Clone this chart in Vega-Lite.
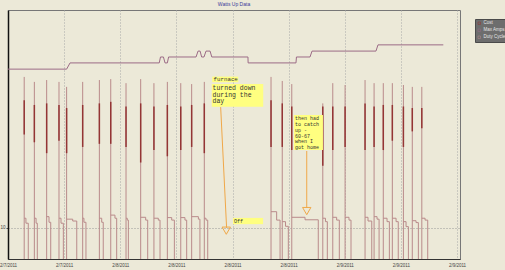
{
  "$schema": "https://vega.github.io/schema/vega-lite/v6.json",
  "width": 452,
  "height": 249,
  "autosize": {"type": "none"},
  "padding": {"left": 8, "top": 10, "right": 45, "bottom": 11},
  "background": "#ece9d8",
  "title": {"text": "Watts Up Data", "fontSize": 5, "font": "Liberation Sans", "color": "#3a3a9a", "fontWeight": "normal", "offset": 3, "anchor": "middle"},
  "config": {
    "view": {"fill": "#ece9d8", "stroke": "#777", "strokeWidth": 1},
    "text": {"font": "Liberation Mono", "color": "#333", "align": "left"},
    "axisX": {
      "grid": true, "gridDash": [1, 2], "gridColor": "#a8a8a8",
      "tickSize": 0, "labelPadding": 3, "labelFontSize": 4.5, "labelFont": "Liberation Sans",
      "labelColor": "#444", "domainColor": "#333", "labelFlush": false, "labelOverlap": false
    },
    "axisY": {
      "grid": true, "gridDash": [1, 2], "gridColor": "#999",
      "domainColor": "#111", "domainWidth": 1.5, "tickSize": 2, "tickColor": "#555",
      "labelFontSize": 4.5, "labelFont": "Liberation Sans", "labelColor": "#444", "labelPadding": 1
    }
  },
  "datasets": {
    "amps": [
      {"t": "2011-02-07T12:00", "v": 61.0},
      {"t": "2011-02-07T18:16", "v": 61.0},
      {"t": "2011-02-07T18:38", "v": 63.0},
      {"t": "2011-02-08T04:10", "v": 63.0},
      {"t": "2011-02-08T04:18", "v": 64.9},
      {"t": "2011-02-08T04:37", "v": 64.9},
      {"t": "2011-02-08T04:47", "v": 63.0},
      {"t": "2011-02-08T05:02", "v": 63.0},
      {"t": "2011-02-08T05:10", "v": 64.9},
      {"t": "2011-02-08T08:06", "v": 64.9},
      {"t": "2011-02-08T08:19", "v": 66.8},
      {"t": "2011-02-08T08:32", "v": 66.8},
      {"t": "2011-02-08T08:42", "v": 64.9},
      {"t": "2011-02-08T08:57", "v": 64.9},
      {"t": "2011-02-08T09:10", "v": 66.8},
      {"t": "2011-02-08T09:36", "v": 66.8},
      {"t": "2011-02-08T09:47", "v": 64.9},
      {"t": "2011-02-08T13:39", "v": 64.9},
      {"t": "2011-02-08T13:40", "v": 63.0},
      {"t": "2011-02-08T18:47", "v": 63.0},
      {"t": "2011-02-08T18:50", "v": 64.9},
      {"t": "2011-02-08T20:17", "v": 64.9},
      {"t": "2011-02-08T20:30", "v": 66.8},
      {"t": "2011-02-09T03:20", "v": 66.8},
      {"t": "2011-02-09T03:33", "v": 68.8},
      {"t": "2011-02-09T10:32", "v": 68.8}
    ],
    "spikes": [
      {"t": "2011-02-07T13:44", "tm": "2011-02-07T13:55", "te": "2011-02-07T14:10", "peak": 58.5, "p1": 13.1, "p2": 11.5, "dhi": 51, "dlo": 40},
      {"t": "2011-02-07T14:49", "tm": "2011-02-07T15:00", "te": "2011-02-07T15:08", "peak": 56.9, "p1": 13.1, "p2": 11.5, "dhi": 49.5, "dlo": 37.5},
      {"t": "2011-02-07T16:08", "tm": "2011-02-07T16:23", "te": "2011-02-07T16:34", "peak": 57.5, "p1": 13.6, "p2": 11.8, "dhi": 50, "dlo": 34},
      {"t": "2011-02-07T17:27", "tm": "2011-02-07T17:40", "te": "2011-02-07T17:55", "peak": 56.9, "p1": 13.1, "p2": 11.5, "dhi": 49.5, "dlo": 38},
      {"t": "2011-02-07T18:16", "tm": "2011-02-07T18:55", "te": "2011-02-07T19:21", "peak": 55.3, "p1": 12.8, "p2": 12.2, "dhi": 48.5, "dlo": 34},
      {"t": "2011-02-07T19:59", "tm": "2011-02-07T20:07", "te": "2011-02-07T20:20", "peak": 56.9, "p1": 13.1, "p2": 11.8, "dhi": 49.5, "dlo": 36},
      {"t": "2011-02-07T21:46", "tm": "2011-02-07T22:01", "te": "2011-02-07T22:11", "peak": 57.5, "p1": 13.1, "p2": 11.8, "dhi": 50, "dlo": 37},
      {"t": "2011-02-07T22:59", "tm": "2011-02-07T23:26", "te": "2011-02-07T23:37", "peak": 57.8, "p1": 14.1, "p2": 13.1, "dhi": 50.5, "dlo": 37},
      {"t": "2011-02-08T00:37", "tm": "2011-02-08T00:45", "te": "2011-02-08T00:52", "peak": 56.5, "p1": 13.1, "p2": 12.5, "dhi": 49, "dlo": 36},
      {"t": "2011-02-08T02:11", "tm": "2011-02-08T02:43", "te": "2011-02-08T02:56", "peak": 57.8, "p1": 13.4, "p2": 12.5, "dhi": 50, "dlo": 31},
      {"t": "2011-02-08T03:36", "tm": "2011-02-08T04:04", "te": "2011-02-08T04:15", "peak": 56.5, "p1": 13.1, "p2": 12.5, "dhi": 49, "dlo": 35},
      {"t": "2011-02-08T05:02", "tm": "2011-02-08T05:30", "te": "2011-02-08T05:47", "peak": 56.9, "p1": 13.3, "p2": 12.5, "dhi": 49.5, "dlo": 33},
      {"t": "2011-02-08T06:28", "tm": "2011-02-08T06:55", "te": "2011-02-08T07:06", "peak": 56.5, "p1": 13.3, "p2": 12.5, "dhi": 49, "dlo": 35},
      {"t": "2011-02-08T07:38", "tm": "2011-02-08T08:21", "te": "2011-02-08T08:31", "peak": 56.2, "p1": 13.6, "p2": 12.8, "dhi": 49.5, "dlo": 36},
      {"t": "2011-02-08T08:59", "tm": "2011-02-08T09:10", "te": "2011-02-08T09:21", "peak": 56.9, "p1": 13.1, "p2": 12.5, "dhi": 50, "dlo": 34},
      {"t": "2011-02-08T16:07", "tm": "2011-02-08T16:43", "te": "2011-02-08T17:05", "peak": 58.5, "p1": 15.2, "p2": 12.5, "dhi": 51, "dlo": 36},
      {"t": "2011-02-08T17:19", "tm": "2011-02-08T17:40", "te": "2011-02-08T17:58", "peak": 57.2, "p1": 12.0, "p2": 10.5, "dhi": 50, "dlo": 36},
      {"t": "2011-02-08T18:20", "tm": "2011-02-08T19:45", "te": "2011-02-08T21:10", "peak": 56.2, "p1": 13.4, "p2": 12.6, "dhi": 49, "dlo": 35},
      {"t": "2011-02-08T21:39", "tm": "2011-02-08T21:56", "te": "2011-02-08T22:08", "peak": 50, "p1": 13.1, "p2": 12.0, "dhi": 49, "dlo": 30},
      {"t": "2011-02-08T22:43", "tm": "2011-02-08T23:08", "te": "2011-02-08T23:25", "peak": 56.5, "p1": 13.4, "p2": 12.5, "dhi": 49, "dlo": 35},
      {"t": "2011-02-09T00:02", "tm": "2011-02-09T00:27", "te": "2011-02-09T00:40", "peak": 55.9, "p1": 13.4, "p2": 12.5, "dhi": 49, "dlo": 36},
      {"t": "2011-02-09T02:10", "tm": "2011-02-09T02:29", "te": "2011-02-09T02:53", "peak": 57.5, "p1": 13.4, "p2": 12.2, "dhi": 50, "dlo": 35},
      {"t": "2011-02-09T03:08", "tm": "2011-02-09T03:27", "te": "2011-02-09T03:40", "peak": 56.5, "p1": 13.6, "p2": 12.8, "dhi": 49, "dlo": 36},
      {"t": "2011-02-09T04:07", "tm": "2011-02-09T04:31", "te": "2011-02-09T04:46", "peak": 56.5, "p1": 13.1, "p2": 12.0, "dhi": 49.5, "dlo": 35},
      {"t": "2011-02-09T05:05", "tm": "2011-02-09T05:29", "te": "2011-02-09T05:43", "peak": 56.5, "p1": 13.1, "p2": 12.0, "dhi": 49.5, "dlo": 38},
      {"t": "2011-02-09T06:16", "tm": "2011-02-09T06:33", "te": "2011-02-09T06:48", "peak": 55.9, "p1": 12.0, "p2": 10.4, "dhi": 49, "dlo": 36},
      {"t": "2011-02-09T07:13", "tm": "2011-02-09T07:37", "te": "2011-02-09T07:52", "peak": 55.3, "p1": 12.3, "p2": 11.7, "dhi": 48.5, "dlo": 41},
      {"t": "2011-02-09T08:14", "tm": "2011-02-09T08:35", "te": "2011-02-09T08:52", "peak": 55.3, "p1": 13.1, "p2": 12.5, "dhi": 48.5, "dlo": 42}
    ],
    "boxes": [
      {"t1": "2011-02-08T09:50", "t2": "2011-02-08T12:37", "v1": 56.8, "v2": 58.6},
      {"t1": "2011-02-08T09:47", "t2": "2011-02-08T15:17", "v1": 48.9, "v2": 56.2},
      {"t1": "2011-02-08T18:34", "t2": "2011-02-08T21:40", "v1": 35.0, "v2": 46.3},
      {"t1": "2011-02-08T12:03", "t2": "2011-02-08T15:16", "v1": 11.2, "v2": 13.2}
    ],
    "arrows": [
      {"t1": "2011-02-08T10:44", "t2": "2011-02-08T11:22", "v1": 48.8, "v2": 10.0},
      {"t1": "2011-02-08T19:56", "t2": "2011-02-08T19:56", "v1": 34.7, "v2": 16.4}
    ],
    "heads": [
      {"t": "2011-02-08T11:20", "v": 9.1},
      {"t": "2011-02-08T19:56", "v": 15.4}
    ]
  },
  "layer": [
    {
      "data": {"name": "amps"},
      "mark": {"type": "line", "strokeWidth": 1},
      "encoding": {
        "x": {
          "field": "t", "type": "temporal", "title": null,
          "scale": {"domain": [{"year": 2011, "month": 2, "date": 7, "hours": 12}, {"year": 2011, "month": 2, "date": 9, "hours": 12, "minutes": 19}], "nice": false},
          "axis": {
            "values": [
              {"year": 2011, "month": 2, "date": 7, "hours": 12},
              {"year": 2011, "month": 2, "date": 7, "hours": 18},
              {"year": 2011, "month": 2, "date": 8, "hours": 0},
              {"year": 2011, "month": 2, "date": 8, "hours": 6},
              {"year": 2011, "month": 2, "date": 8, "hours": 12},
              {"year": 2011, "month": 2, "date": 8, "hours": 18},
              {"year": 2011, "month": 2, "date": 9, "hours": 0},
              {"year": 2011, "month": 2, "date": 9, "hours": 6},
              {"year": 2011, "month": 2, "date": 9, "hours": 12}
            ],
            "format": "%-m/%-d/%Y"
          }
        },
        "y": {
          "field": "v", "type": "quantitative", "title": null,
          "scale": {"domain": [0, 80], "nice": false, "zero": false},
          "axis": {"values": [10]}
        },
        "color": {
          "datum": "Max Amps",
          "scale": {"domain": ["Cost", "Max Amps", "Duty Cycle"], "range": ["#943535", "#9c6b86", "#b98a8a"]},
          "legend": {"orient": "none", "legendX": 467, "legendY": 9, "title": null, "fillColor": "#6d6d6d", "strokeColor": "#4a4a4a", "padding": 2, "labelFontSize": 4.5, "labelFont": "Liberation Sans", "labelColor": "#e6e6e6", "symbolSize": 6, "symbolType": "square", "rowPadding": 1, "labelOffset": 2, "symbolStrokeWidth": 0.5}
        }
      }
    },
    {
      "data": {"name": "spikes"},
      "mark": {"type": "rule", "strokeWidth": 1},
      "encoding": {
        "x": {"field": "t", "type": "temporal", "title": null},
        "y": {"field": "peak", "type": "quantitative", "title": null},
        "y2": {"datum": 0},
        "color": {"datum": "Duty Cycle"}
      }
    },
    {
      "data": {"name": "spikes"},
      "mark": {"type": "rule", "strokeWidth": 1, "color": "#b98a8a"},
      "encoding": {
        "x": {"field": "t", "type": "temporal", "title": null},
        "x2": {"field": "tm"},
        "y": {"field": "p1", "type": "quantitative", "title": null}
      }
    },
    {
      "data": {"name": "spikes"},
      "mark": {"type": "rule", "strokeWidth": 1, "color": "#b98a8a"},
      "encoding": {
        "x": {"field": "tm", "type": "temporal", "title": null},
        "y": {"field": "p1", "type": "quantitative", "title": null},
        "y2": {"field": "p2"}
      }
    },
    {
      "data": {"name": "spikes"},
      "mark": {"type": "rule", "strokeWidth": 1, "color": "#b98a8a"},
      "encoding": {
        "x": {"field": "tm", "type": "temporal", "title": null},
        "x2": {"field": "te"},
        "y": {"field": "p2", "type": "quantitative", "title": null}
      }
    },
    {
      "data": {"name": "spikes"},
      "mark": {"type": "rule", "strokeWidth": 1, "color": "#b98a8a"},
      "encoding": {
        "x": {"field": "te", "type": "temporal", "title": null},
        "y": {"field": "p2", "type": "quantitative", "title": null},
        "y2": {"datum": 0}
      }
    },
    {
      "data": {"name": "spikes"},
      "mark": {"type": "rule", "strokeWidth": 1.5},
      "encoding": {
        "x": {"field": "t", "type": "temporal", "title": null},
        "y": {"field": "dhi", "type": "quantitative", "title": null},
        "y2": {"field": "dlo"},
        "color": {"datum": "Cost"}
      }
    },
    {
      "data": {"name": "boxes"},
      "mark": {"type": "rect", "color": "#ffff80"},
      "encoding": {
        "x": {"field": "t1", "type": "temporal", "title": null},
        "x2": {"field": "t2"},
        "y": {"field": "v1", "type": "quantitative", "title": null},
        "y2": {"field": "v2"}
      }
    },
    {
      "data": {"values": [{"t": "2011-02-08T09:58", "v": 57.7, "label": "furnace"}]},
      "mark": {"type": "text", "fontSize": 5.8, "baseline": "middle"},
      "encoding": {
        "x": {"field": "t", "type": "temporal", "title": null},
        "y": {"field": "v", "type": "quantitative", "title": null},
        "text": {"field": "label"}
      }
    },
    {
      "data": {"values": [{"t": "2011-02-08T09:52", "v": 55.8, "label": ["turned down", "during the", "day"]}]},
      "mark": {"type": "text", "fontSize": 6.5, "lineHeight": 6.3, "baseline": "top"},
      "encoding": {
        "x": {"field": "t", "type": "temporal", "title": null},
        "y": {"field": "v", "type": "quantitative", "title": null},
        "text": {"field": "label"}
      }
    },
    {
      "data": {"values": [{"t": "2011-02-08T18:41", "v": 45.9, "label": ["then had", "to catch", "up -", "60-67", "when I", "got home"]}]},
      "mark": {"type": "text", "fontSize": 5, "lineHeight": 5.8, "baseline": "top"},
      "encoding": {
        "x": {"field": "t", "type": "temporal", "title": null},
        "y": {"field": "v", "type": "quantitative", "title": null},
        "text": {"field": "label"}
      }
    },
    {
      "data": {"values": [{"t": "2011-02-08T12:10", "v": 12.2, "label": "Off"}]},
      "mark": {"type": "text", "fontSize": 5, "baseline": "middle"},
      "encoding": {
        "x": {"field": "t", "type": "temporal", "title": null},
        "y": {"field": "v", "type": "quantitative", "title": null},
        "text": {"field": "label"}
      }
    },
    {
      "data": {"name": "arrows"},
      "mark": {"type": "rule", "strokeWidth": 1, "color": "#f0a848"},
      "encoding": {
        "x": {"field": "t1", "type": "temporal", "title": null},
        "x2": {"field": "t2"},
        "y": {"field": "v1", "type": "quantitative", "title": null},
        "y2": {"field": "v2"}
      }
    },
    {
      "data": {"name": "heads"},
      "mark": {"type": "point", "shape": "triangle-down", "size": 70, "filled": false, "color": "#f0a848", "strokeWidth": 1, "opacity": 1},
      "encoding": {
        "x": {"field": "t", "type": "temporal", "title": null},
        "y": {"field": "v", "type": "quantitative", "title": null}
      }
    }
  ]
}
